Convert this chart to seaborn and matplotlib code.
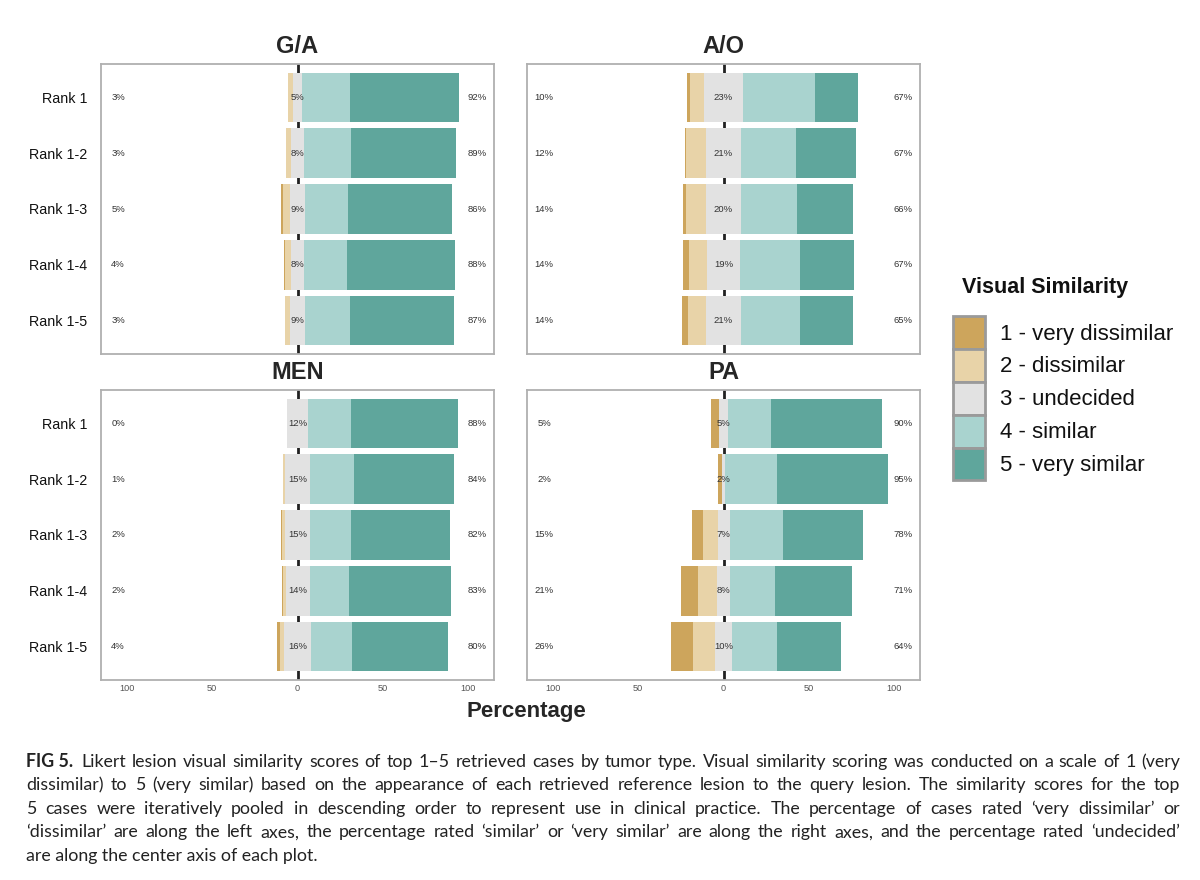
import matplotlib
matplotlib.use("Agg")
import matplotlib.pyplot as plt
from matplotlib.patches import Patch
import seaborn as sns

# Data (percent of cases per Likert level)
RANKS = ["Rank 1", "Rank 1-2", "Rank 1-3", "Rank 1-4", "Rank 1-5"]
PANELS = ["G/A", "A/O", "MEN", "PA"]

very_dissimilar = {
    "G/A": [0.0, 0.0, 1.0, 0.7, 0.3],
    "A/O": [2.0, 0.5, 2.0, 3.0, 3.5],
    "MEN": [0.0, 0.0, 0.5, 0.7, 1.5],
    "PA":  [5.0, 2.0, 6.5, 10.0, 13.0],
}
dissimilar = {
    "G/A": [3.0, 3.0, 4.0, 3.3, 2.7],
    "A/O": [8.0, 11.5, 12.0, 11.0, 10.5],
    "MEN": [0.0, 1.0, 1.5, 1.3, 2.5],
    "PA":  [0.0, 0.0, 8.5, 11.0, 13.0],
}
undecided = {
    "G/A": [5, 8, 9, 8, 9],
    "A/O": [23, 21, 20, 19, 21],
    "MEN": [12, 15, 15, 14, 16],
    "PA":  [5, 2, 7, 8, 10],
}
similar = {
    "G/A": [28, 27, 25, 25, 26],
    "A/O": [42, 32, 33, 35, 34],
    "MEN": [25, 25.5, 23.5, 23, 24],
    "PA":  [25, 30, 31.5, 26, 26],
}
very_similar = {
    "G/A": [64, 62, 61, 63, 61],
    "A/O": [25, 35, 33, 32, 31],
    "MEN": [63, 58.5, 58.5, 60, 56],
    "PA":  [65, 65, 46.5, 45, 38],
}
left_labels = {
    "G/A": ["3%", "3%", "5%", "4%", "3%"],
    "A/O": ["10%", "12%", "14%", "14%", "14%"],
    "MEN": ["0%", "1%", "2%", "2%", "4%"],
    "PA":  ["5%", "2%", "15%", "21%", "26%"],
}
center_labels = {
    "G/A": ["5%", "8%", "9%", "8%", "9%"],
    "A/O": ["23%", "21%", "20%", "19%", "21%"],
    "MEN": ["12%", "15%", "15%", "14%", "16%"],
    "PA":  ["5%", "2%", "7%", "8%", "10%"],
}
right_labels = {
    "G/A": ["92%", "89%", "86%", "88%", "87%"],
    "A/O": ["67%", "67%", "66%", "67%", "65%"],
    "MEN": ["88%", "84%", "82%", "83%", "80%"],
    "PA":  ["90%", "95%", "78%", "71%", "64%"],
}

LEVELS = ["1 - very dissimilar", "2 - dissimilar", "3 - undecided",
          "4 - similar", "5 - very similar"]
COLORS = ["#CDA55C", "#E8D3A8", "#E2E2E2", "#A9D3CF", "#5FA69C"]

sns.set_theme(style="white")
plt.rcParams["font.family"] = ["Liberation Sans", "DejaVu Sans"]

fig = plt.figure(figsize=(12, 8.8), dpi=100)

# axes boxes in figure fractions: left, bottom, width, height
boxes = {
    "G/A": [0.0842, 0.5977, 0.3275, 0.3296],
    "A/O": [0.4392, 0.5977, 0.3275, 0.3296],
    "MEN": [0.0842, 0.2273, 0.3275, 0.3296],
    "PA":  [0.4392, 0.2273, 0.3275, 0.3296],
}


def draw_panel(ax, name, show_y, show_x):
    vd = very_dissimilar[name]
    d = dissimilar[name]
    u = undecided[name]
    s = similar[name]
    vs = very_similar[name]

    ax.axvline(0, color="#222222", lw=2, zorder=0)

    half = [x / 2 for x in u]
    # cumulative ends, drawn biggest first so the shorter ones sit on top
    right_sets = [
        ([h + a + b for h, a, b in zip(half, s, vs)], COLORS[4]),
        ([h + a for h, a in zip(half, s)], COLORS[3]),
        (half, COLORS[2]),
    ]
    left_sets = [
        ([-(h + a + b) for h, a, b in zip(half, d, vd)], COLORS[0]),
        ([-(h + a) for h, a in zip(half, d)], COLORS[1]),
        ([-h for h in half], COLORS[2]),
    ]
    for vals, col in right_sets + left_sets:
        sns.barplot(x=vals, y=RANKS, orient="h", color=col, saturation=1,
                    width=0.89, errorbar=None, linewidth=0, ax=ax, zorder=2)

    for i in range(len(RANKS)):
        ax.text(-105, i, left_labels[name][i], ha="center", va="center",
                fontsize=6.8, color="#333333", zorder=3)
        ax.text(0, i, center_labels[name][i], ha="center", va="center",
                fontsize=6.8, color="#333333", zorder=3)
        ax.text(105, i, right_labels[name][i], ha="center", va="center",
                fontsize=6.8, color="#333333", zorder=3)

    ax.set_xlim(-115, 115)
    ax.set_ylim(4.6, -0.6)
    ax.set_xlabel("")
    ax.set_ylabel("")
    ax.set_xticks([-100, -50, 0, 50, 100])
    if show_x:
        ax.set_xticklabels(["100", "50", "0", "50", "100"])
    else:
        ax.set_xticklabels([])
    if not show_y:
        ax.set_yticklabels([])
    ax.tick_params(axis="x", length=0, labelsize=6.6, labelcolor="#555555", pad=3)
    ax.tick_params(axis="y", length=0, labelsize=10.3, labelcolor="#111111", pad=10)
    for sp in ax.spines.values():
        sp.set_visible(True)
        sp.set_color("#B0B0B0")
        sp.set_linewidth(1.3)
    ax.set_title(name, fontsize=17, fontweight="bold", pad=8)


for name in PANELS:
    ax = fig.add_axes(boxes[name])
    draw_panel(ax, name, show_y=name in ("G/A", "MEN"),
               show_x=name in ("MEN", "PA"))

fig.text(0.439, 1 - 711 / 880, "Percentage", ha="center", va="center",
         fontsize=16, fontweight="bold")

# legend: title as own text so the boxes can sit flush under each other
fig.text(962 / 1200, 1 - 287 / 880, "Visual Similarity", ha="left",
         va="center", fontsize=15.5, fontweight="bold", color="#111111")
handles = [Patch(facecolor=c, edgecolor="#9A9A9A", linewidth=2) for c in COLORS]
leg = fig.legend(handles, LEVELS, loc="upper left",
                 bbox_to_anchor=(953 / 1200, 1 - 316 / 880), frameon=False,
                 fontsize=16, handlelength=1.45, handleheight=1.9,
                 labelspacing=0.0, handletextpad=0.65, borderpad=0,
                 borderaxespad=0)
for t in leg.get_texts():
    t.set_color("#111111")

# caption, justified like the printed figure
cap_font = ["Lato", "DejaVu Sans"]
cap_size = 12.8
lines = [
    "Likert lesion visual similarity scores of top 1\u20135 retrieved cases by tumor type. "
    "Visual similarity scoring was conducted on a scale of 1 (very",
    "dissimilar) to 5 (very similar) based on the appearance of each retrieved reference "
    "lesion to the query lesion. The similarity scores for the top",
    "5 cases were iteratively pooled in descending order to represent use in clinical "
    "practice. The percentage of cases rated \u2018very dissimilar\u2019 or",
    "\u2018dissimilar\u2019 are along the left axes, the percentage rated \u2018similar\u2019 "
    "or \u2018very similar\u2019 are along the right axes, and the percentage rated \u2018undecided\u2019",
    "are along the center axis of each plot.",
]
x_left = 26.0
x_right = 1180.0
y0 = 767.0          # baseline of first caption line, pixels from top
dy = 23.4
W, H = 1200.0, 880.0

renderer = fig.canvas.get_renderer()
bold = fig.text(x_left / W, 1 - y0 / H, "FIG 5.", family=cap_font,
                fontsize=cap_size, fontweight="bold", va="baseline",
                color="#222222")
bb = bold.get_window_extent(renderer=renderer)
first_start = bb.x1 + 8

for i, line in enumerate(lines):
    start = first_start if i == 0 else x_left
    y = 1 - (y0 + i * dy) / H
    words = line.split(" ")
    if i == len(lines) - 1:
        fig.text(start / W, y, line, family=cap_font, fontsize=cap_size,
                 va="baseline", color="#222222")
        continue
    arts = [fig.text(0, y, w, family=cap_font, fontsize=cap_size,
                     va="baseline", color="#222222") for w in words]
    widths = [a.get_window_extent(renderer=renderer).width for a in arts]
    gap = (x_right - start - sum(widths)) / (len(words) - 1)
    x = start
    for a, w in zip(arts, widths):
        a.set_x(x / W)
        x += w + gap

fig.savefig("out.png", dpi=100)
